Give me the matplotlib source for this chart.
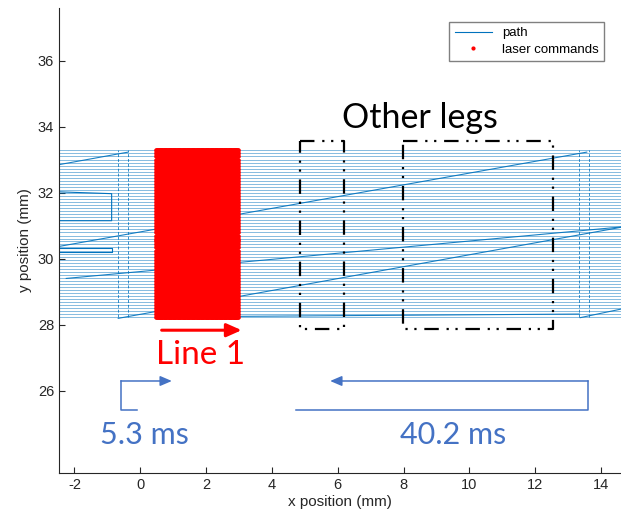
import numpy as np
import matplotlib
matplotlib.use("Agg")
import matplotlib.pyplot as plt
from matplotlib.lines import Line2D

plt.rcParams["font.family"] = ["Liberation Sans", "DejaVu Sans"]
plt.rcParams["axes.unicode_minus"] = False

# raster scan lines (y position, mm)
line_y = [28.22, 28.31, 28.40, 28.50, 28.59, 28.68, 28.77, 28.86, 28.96, 29.05,
          29.14, 29.23, 29.32, 29.42, 29.51, 29.60, 29.69, 29.78, 29.88, 29.97,
          30.06, 30.15, 30.24, 30.34, 30.43, 30.52, 30.61, 30.70, 30.80, 30.89,
          30.98, 31.07, 31.16, 31.26, 31.35, 31.44, 31.53, 31.62, 31.72, 31.81,
          31.90, 31.99, 32.08, 32.18, 32.27, 32.36, 32.45, 32.54, 32.64, 32.73,
          32.82, 32.91, 33.00, 33.10, 33.19, 33.28]
line_x = [-2.6, 14.8]

# retrace / jump moves (x0, y0, x1, y1)
jumps_x0 = [-2.47, -2.47, -2.25, -0.67, 13.37, 3.00]
jumps_y0 = [32.85, 30.37, 29.40, 28.19, 28.21, 28.25]
jumps_x1 = [-0.37, 13.57, 14.61, 14.61, 14.61, 13.35]
jumps_y1 = [33.23, 33.23, 30.96, 30.95, 28.47, 28.32]

# short stubs on the left side (bracket shapes)
stub_x = [[-2.6, -0.87, -0.87, -2.6], [-2.6, -0.87, -0.87, -2.6]]
stub_y = [[32.03, 31.97, 31.15, 31.15], [30.32, 30.32, 30.20, 30.20]]

# turnaround columns
turn_x = [-0.67, -0.36, 13.34, 13.65]

# laser command points of line 1
laser_x_start, laser_x_end, laser_pitch = 0.49, 2.98, 0.025

# annotation boxes around the other legs (x0, x1)
box_x0 = [4.85, 7.99]
box_x1 = [6.19, 12.53]
box_y = [27.86, 33.56]

PATH_BLUE = "#0072BD"
NOTE_BLUE = "#4472C4"
AX_GREY = "#262626"

fig = plt.figure(figsize=(6.21, 5.11), dpi=100)
ax = fig.add_axes([59 / 621, 38 / 511, 562 / 621, 465 / 511])

for y in line_y:
    ax.plot(line_x, [y, y], color=PATH_BLUE, lw=0.55, alpha=0.6)
for x0, y0, x1, y1 in zip(jumps_x0, jumps_y0, jumps_x1, jumps_y1):
    ax.plot([x0, x1], [y0, y1], color=PATH_BLUE, lw=0.8, alpha=0.9)
for sx, sy in zip(stub_x, stub_y):
    ax.plot(sx, sy, color=PATH_BLUE, lw=0.8)
for x in turn_x:
    ax.plot([x, x], [line_y[0], line_y[-1]], color=PATH_BLUE, lw=0.7,
            ls=(0, (3, 2)), alpha=0.8)

lx = np.arange(laser_x_start, laser_x_end + 1e-9, laser_pitch)
gx, gy = np.meshgrid(lx, line_y)
ax.plot(gx.ravel(), gy.ravel(), "o", color="red", ms=3.4, mew=0, zorder=3)

for x0, x1 in zip(box_x0, box_x1):
    ax.plot([x0, x1, x1, x0, x0], [box_y[1], box_y[1], box_y[0], box_y[0], box_y[1]],
            color="black", lw=1.6, ls=(0, (6.5, 3.5, 1, 3, 1, 3.5)), zorder=4)

# Line 1 arrow and label
ax.annotate("", xy=(3.08, 27.83), xytext=(0.65, 27.83),
            arrowprops=dict(arrowstyle="-|>,head_length=0.9,head_width=0.4",
                            color="red", lw=2.2, shrinkA=0, shrinkB=0))
ax.text(1.84, 27.08, "Line 1", color="red", fontsize=24, family="Lato",
        ha="center", va="center")
ax.text(8.5, 34.25, "Other legs", color="black", fontsize=24.5, family="Lato",
        ha="center", va="center")

# timing arrows
ax.plot([-0.10, -0.59, -0.59], [25.40, 25.40, 26.29], color=NOTE_BLUE, lw=1.1)
ax.annotate("", xy=(0.96, 26.29), xytext=(-0.59, 26.29),
            arrowprops=dict(arrowstyle="-|>,head_length=0.7,head_width=0.3",
                            color=NOTE_BLUE, lw=1.1, shrinkA=0, shrinkB=0))
ax.plot([4.73, 13.61, 13.61], [25.40, 25.40, 26.29], color=NOTE_BLUE, lw=1.1)
ax.annotate("", xy=(5.77, 26.29), xytext=(13.61, 26.29),
            arrowprops=dict(arrowstyle="-|>,head_length=0.7,head_width=0.3",
                            color=NOTE_BLUE, lw=1.1, shrinkA=0, shrinkB=0))
ax.text(0.14, 24.64, "5.3 ms", color=NOTE_BLUE, fontsize=22, family="Lato",
        ha="center", va="center")
ax.text(9.5, 24.64, "40.2 ms", color=NOTE_BLUE, fontsize=22, family="Lato",
        ha="center", va="center")

ax.set_xlim(-2.47, 14.61)
ax.set_ylim(23.5, 37.6)
ax.set_xticks(range(-2, 15, 2))
ax.set_yticks(range(26, 37, 2))
ax.spines["top"].set_visible(False)
ax.spines["right"].set_visible(False)
for s in ("left", "bottom"):
    ax.spines[s].set_color(AX_GREY)
    ax.spines[s].set_linewidth(0.8)
ax.tick_params(direction="in", length=4, color=AX_GREY, labelcolor=AX_GREY,
               labelsize=10.5)
ax.set_xlabel("x position (mm)", fontsize=11, color=AX_GREY, labelpad=2)
ax.set_ylabel("y position (mm)", fontsize=11, color=AX_GREY)

handles = [Line2D([], [], color=PATH_BLUE, lw=0.8),
           Line2D([], [], ls="", marker=".", color="red", ms=4)]
ax.legend(handles, ["path", "laser commands"], loc="upper right",
          bbox_to_anchor=(0.970, 0.970), borderaxespad=0, fancybox=False,
          edgecolor="#808080", fontsize=9.5, framealpha=1, handlelength=2.8,
          borderpad=0.4, labelspacing=0.3)

fig.savefig("out.png", dpi=100)
